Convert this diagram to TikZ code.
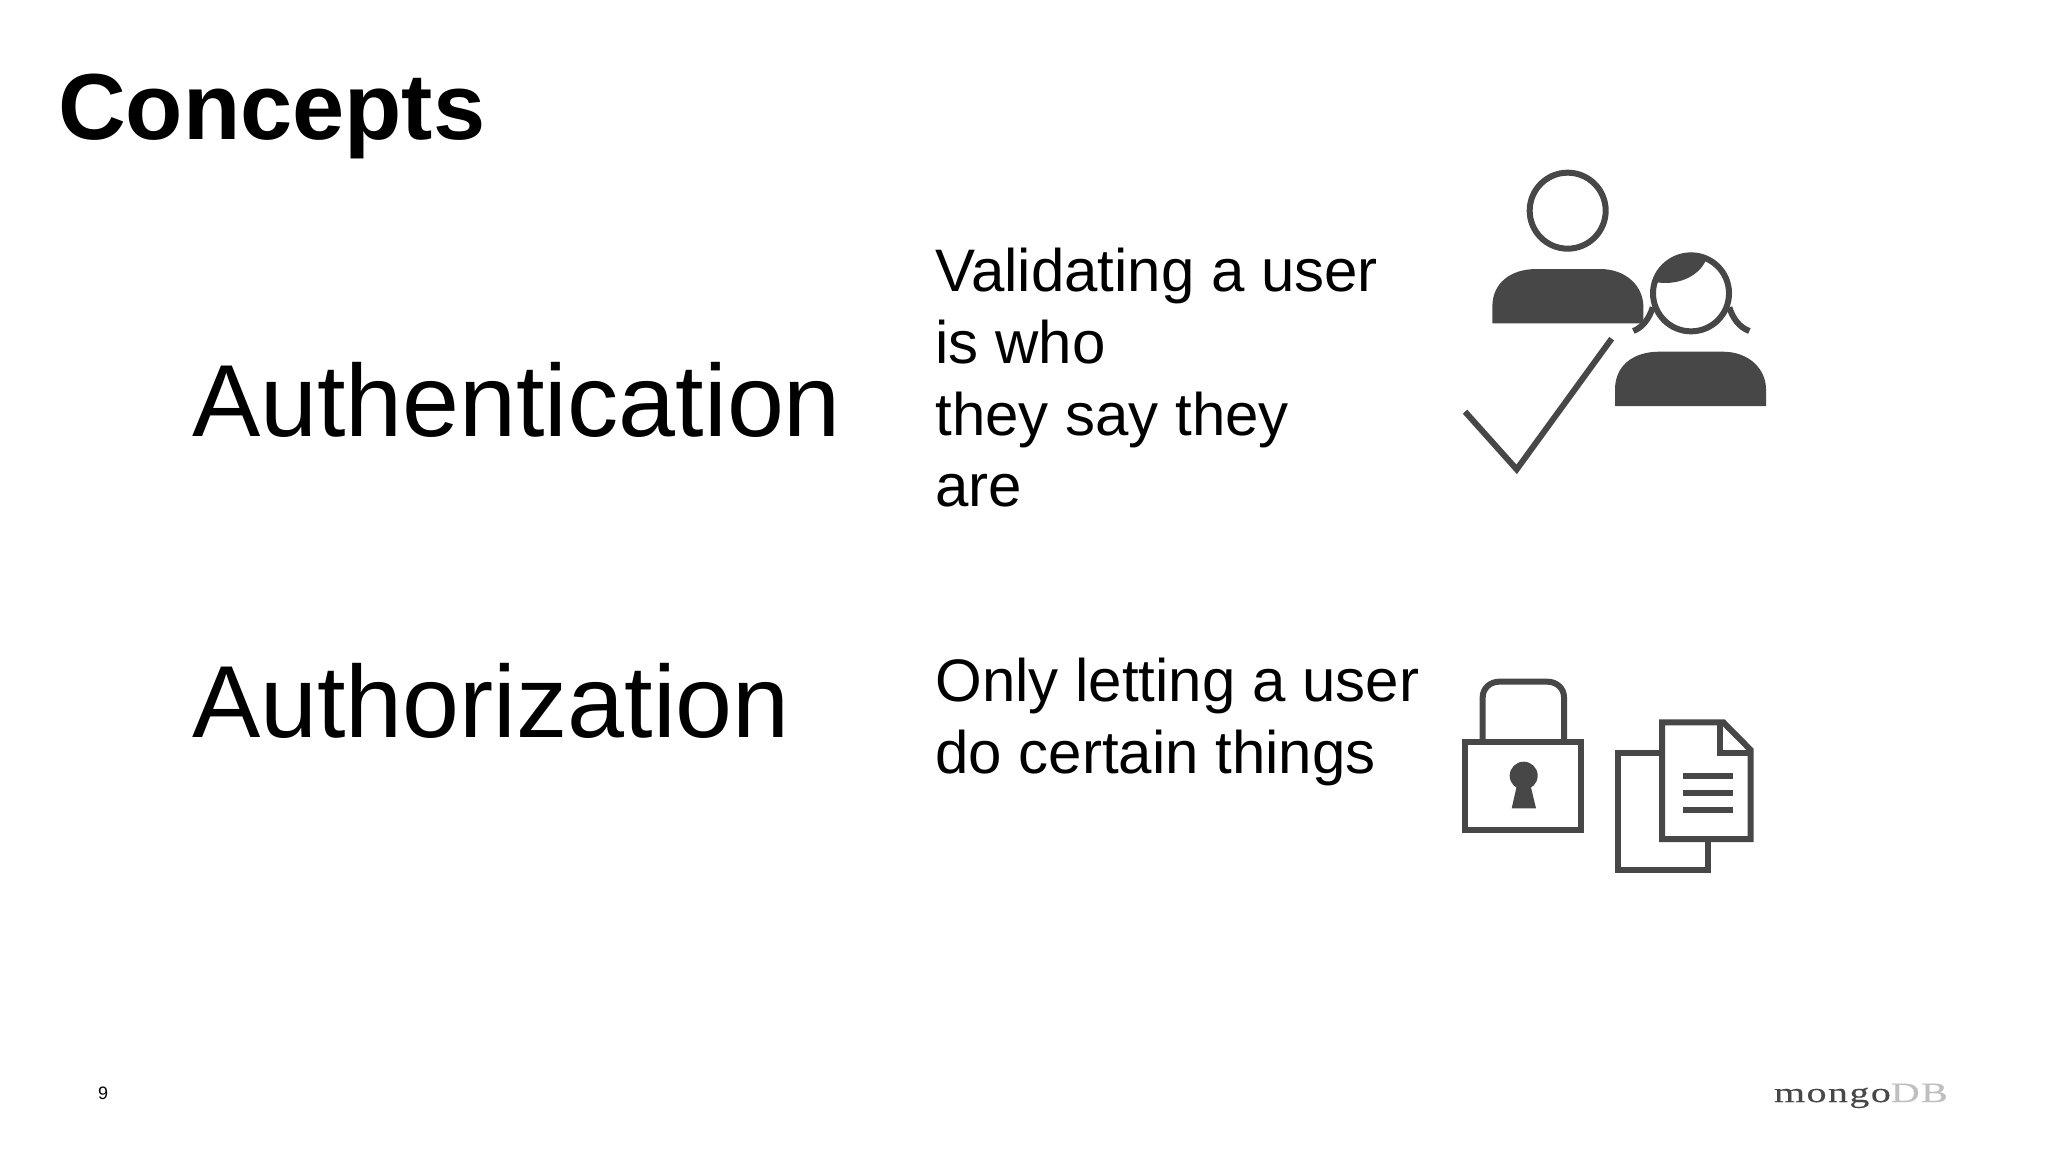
\documentclass[tikz,border=0pt]{standalone}
\usepackage{fontspec}
\setmainfont{Liberation Sans}
\newfontfamily\logofont[LetterSpace=5,FakeStretch=1.43,FakeBold=0.3]{Liberation Serif}
\definecolor{icon}{HTML}{474747}
\tikzset{
  txt/.style={anchor=base west,inner sep=0pt,outer sep=0pt,text=black},
  title/.style={txt,font=\fontsize{46.9}{50}\selectfont\bfseries},
  term/.style={txt,font=\fontsize{51.2}{56}\selectfont},
  desc/.style={txt,font=\fontsize{30}{36}\selectfont},
  ic/.style={draw=icon,line width=3pt,miter limit=10},
  icf/.style={fill=icon,draw=none},
  zoomA/.style={shift={(1440,150)},x=0.16667pt,y=-0.16667pt},
  zoomB/.style={shift={(1440,660)},x=0.16667pt,y=-0.16667pt}
}
\begin{document}
\begin{tikzpicture}[x=0.5pt,y=-0.5pt]
\path[use as bounding box,fill=white] (0,0) rectangle (2048,1152);
\node[title] (ttl) at (58,139) {Concepts};
\node[term] (authn) at (192,436) {Authentication};
\node[term] (authz) at (192,737) {Authorization};
\node[desc] (d1) at (935.5,291.5) {Validating a user};
\node[desc] (d2) at (935.5,363.5) {is who};
\node[desc] (d3) at (935.5,435.5) {they say they};
\node[desc] (d4) at (935.5,506.5) {are};
\node[desc] (d5) at (935.5,701) {Only letting a user};
\node[desc] (d6) at (935.5,773) {do certain things};
\node[txt,font=\fontsize{9}{10}\selectfont] (pg) at (98,1099) {9};
\node[txt,font=\fontsize{14}{16}\selectfont\logofont,text=icon] (logo) at (1774,1102) {mongo\textcolor{black!25}{DB}};
\begin{scope}[zoomA]
  \draw[ic] (383,182) circle[radius=114];
  \fill[icf] (157,520) -- (157,470) .. controls (157,400) and (210,357) .. (290,357)
     -- (480,357) .. controls (560,357) and (610,410) .. (610,470) -- (610,520) -- cycle;
  \draw[ic] (753,430) circle[radius=114];
  \fill[icf] (640,395) .. controls (655,340) and (705,310) .. (753,312)
     .. controls (770,312) and (785,318) .. (797,332)
     .. controls (775,380) and (710,410) .. (640,395) -- cycle;
  \draw[ic,line cap=butt] (638,472) .. controls (628,505) and (608,532) .. (580,543);
  \draw[ic,line cap=butt] (868,472) .. controls (878,505) and (898,532) .. (928,543);
  \fill[icf] (525,768) -- (525,718) .. controls (525,648) and (578,605) .. (658,605)
     -- (848,605) .. controls (928,605) and (978,658) .. (978,718) -- (978,768) -- cycle;
  \draw[ic] (75,785) -- (230,958) -- (515,566);
\end{scope}
\begin{scope}[zoomB]
  \draw[ic] (74,246) rectangle (424,509);
  \draw[ic] (128,246) -- (128,112) .. controls (128,85) and (150,65) .. (178,65)
     -- (322,65) .. controls (350,65) and (372,85) .. (372,112) -- (372,246);
  \fill[icf] (251,347) circle[radius=42];
  \fill[icf] (232,370) -- (215,445) -- (288,445) -- (270,370) -- cycle;
  \draw[ic] (666,279) -- (535,279) -- (535,629) -- (804,629) -- (804,537);
  \draw[ic] (666,187) -- (850,187) -- (932,270) -- (932,537) -- (666,537) -- cycle;
  \draw[ic] (840,190) -- (840,280) -- (932,280);
  \draw[ic] (730,348) -- (878,348) (730,400) -- (878,400) (730,451) -- (878,451);
\end{scope}
\end{tikzpicture}
\end{document}
